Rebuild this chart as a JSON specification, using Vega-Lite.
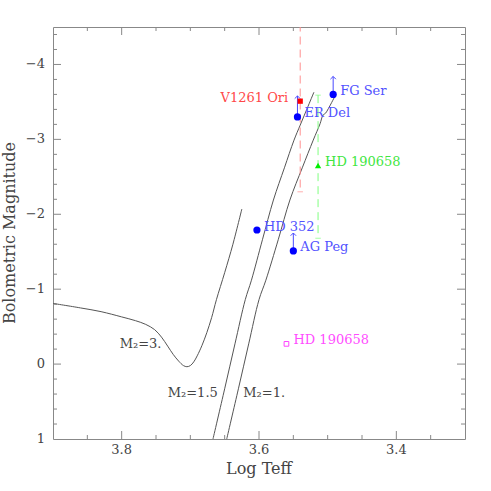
{
 "$schema": "https://vega.github.io/schema/vega-lite/v6.json",
 "width": 412, "height": 412,
 "autosize": {"type": "none"},
 "padding": {"left": 53, "top": 27, "right": 26, "bottom": 52},
 "config": {
  "view": {"stroke": "#888", "strokeWidth": 1}
 },
 "datasets": {
  "curves": [
   {"c":"3","o":1,"t":3.900,"m":-0.81},{"c":"3","o":2,"t":3.860,"m":-0.75},{"c":"3","o":3,"t":3.830,"m":-0.70},{"c":"3","o":4,"t":3.800,"m":-0.63},{"c":"3","o":5,"t":3.780,"m":-0.58},{"c":"3","o":6,"t":3.765,"m":-0.53},{"c":"3","o":7,"t":3.752,"m":-0.46},{"c":"3","o":8,"t":3.742,"m":-0.36},{"c":"3","o":9,"t":3.733,"m":-0.24},{"c":"3","o":10,"t":3.725,"m":-0.13},{"c":"3","o":11,"t":3.717,"m":-0.04},{"c":"3","o":12,"t":3.710,"m":0.02},{"c":"3","o":13,"t":3.705,"m":0.035},{"c":"3","o":14,"t":3.700,"m":0.02},{"c":"3","o":15,"t":3.695,"m":-0.03},{"c":"3","o":16,"t":3.690,"m":-0.11},{"c":"3","o":17,"t":3.683,"m":-0.25},{"c":"3","o":18,"t":3.676,"m":-0.42},{"c":"3","o":19,"t":3.669,"m":-0.62},{"c":"3","o":20,"t":3.662,"m":-0.86},{"c":"3","o":21,"t":3.650,"m":-1.22},{"c":"3","o":22,"t":3.638,"m":-1.60},{"c":"3","o":23,"t":3.625,"m":-2.07},
   {"c":"1.5","o":1,"t":3.667,"m":1.00},{"c":"1.5","o":2,"t":3.650,"m":0.33},{"c":"1.5","o":3,"t":3.635,"m":-0.27},{"c":"1.5","o":4,"t":3.620,"m":-0.86},{"c":"1.5","o":5,"t":3.611,"m":-1.12},{"c":"1.5","o":6,"t":3.595,"m":-1.66},{"c":"1.5","o":7,"t":3.579,"m":-2.19},{"c":"1.5","o":8,"t":3.563,"m":-2.62},{"c":"1.5","o":9,"t":3.549,"m":-2.99},{"c":"1.5","o":10,"t":3.540,"m":-3.19},{"c":"1.5","o":11,"t":3.530,"m":-3.41},{"c":"1.5","o":12,"t":3.520,"m":-3.63},
   {"c":"1","o":1,"t":3.647,"m":1.00},{"c":"1","o":2,"t":3.630,"m":0.33},{"c":"1","o":3,"t":3.615,"m":-0.27},{"c":"1","o":4,"t":3.600,"m":-0.86},{"c":"1","o":5,"t":3.590,"m":-1.12},{"c":"1","o":6,"t":3.572,"m":-1.66},{"c":"1","o":7,"t":3.555,"m":-2.19},{"c":"1","o":8,"t":3.537,"m":-2.62},{"c":"1","o":9,"t":3.521,"m":-2.99},{"c":"1","o":10,"t":3.511,"m":-3.21},{"c":"1","o":11,"t":3.507,"m":-3.32},{"c":"1","o":12,"t":3.503,"m":-3.35},{"c":"1","o":13,"t":3.499,"m":-3.41},{"c":"1","o":14,"t":3.488,"m":-3.60}
  ],
  "notes": [
   {"label":"M₂=3.","t":3.742,"m":-0.27},
   {"label":"M₂=1.5","t":3.660,"m":0.38},
   {"label":"M₂=1.","t":3.562,"m":0.38}
  ],
  "stars": [
   {"id":"v1261","name":"V1261 Ori","t":3.540,"m":-3.51,"g":"red","e1":-4.72,"e2":-2.30},
   {"id":"erdel","name":"ER Del","t":3.544,"m":-3.30,"g":"blue","up":-3.58},
   {"id":"fgser","name":"FG Ser","t":3.492,"m":-3.60,"g":"blue","up":-3.84},
   {"id":"hd352","name":"HD 352","t":3.603,"m":-1.79,"g":"blue"},
   {"id":"agpeg","name":"AG Peg","t":3.550,"m":-1.51,"g":"blue","up":-1.75},
   {"id":"hdg","name":"HD 190658","t":3.514,"m":-2.65,"g":"green","e1":-3.59,"e2":-1.68},
   {"id":"hdm","name":"HD 190658","t":3.560,"m":-0.27,"g":"magenta"}
  ],
  "xticks": [
   {"v":3.35,"k":"minor"},{"v":3.40,"k":"major"},{"v":3.45,"k":"minor"},{"v":3.50,"k":"minor"},{"v":3.55,"k":"minor"},{"v":3.60,"k":"major"},{"v":3.65,"k":"minor"},{"v":3.70,"k":"minor"},{"v":3.75,"k":"minor"},{"v":3.80,"k":"major"},{"v":3.85,"k":"minor"}
  ],
  "yticks": [
   {"v":-4.4,"k":"minor"},{"v":-4.2,"k":"minor"},{"v":-4.0,"k":"major"},{"v":-3.8,"k":"minor"},{"v":-3.6,"k":"minor"},{"v":-3.4,"k":"minor"},{"v":-3.2,"k":"minor"},{"v":-3.0,"k":"major"},{"v":-2.8,"k":"minor"},{"v":-2.6,"k":"minor"},{"v":-2.4,"k":"minor"},{"v":-2.2,"k":"minor"},{"v":-2.0,"k":"major"},{"v":-1.8,"k":"minor"},{"v":-1.6,"k":"minor"},{"v":-1.4,"k":"minor"},{"v":-1.2,"k":"minor"},{"v":-1.0,"k":"major"},{"v":-0.8,"k":"minor"},{"v":-0.6,"k":"minor"},{"v":-0.4,"k":"minor"},{"v":-0.2,"k":"minor"},{"v":0.0,"k":"major"},{"v":0.2,"k":"minor"},{"v":0.4,"k":"minor"},{"v":0.6,"k":"minor"},{"v":0.8,"k":"minor"}
  ],
  "xlabels": [{"v":3.4},{"v":3.6},{"v":3.8}],
  "ylabels": [{"v":-4},{"v":-3},{"v":-2},{"v":-1},{"v":0},{"v":1}]
 },
 "resolve": {"scale": {"color": "independent"}},
 "layer": [
  {
   "data": {"name": "stars"},
   "mark": {"type": "point", "opacity": 0},
   "encoding": {
    "x": {"field": "t", "type": "quantitative", "axis": null,
          "scale": {"domain": [3.3, 3.9], "reverse": true, "nice": false, "zero": false}},
    "y": {"field": "m", "type": "quantitative", "axis": null,
          "scale": {"domain": [-4.5, 1], "reverse": true, "nice": false, "zero": false}}
   }
  },
  {
   "data": {"name": "xticks"},
   "mark": {"type": "point", "shape": "M0,0L0,-1", "filled": false, "strokeWidth": 1, "color": "#888", "opacity": 1},
   "encoding": {
    "x": {"field": "v", "type": "quantitative", "axis": null},
    "y": {"datum": 1, "type": "quantitative", "axis": null},
    "size": {"field": "k", "type": "nominal", "scale": {"domain": ["major", "minor"], "range": [256, 64]}, "legend": null}
   }
  },
  {
   "data": {"name": "xticks"},
   "mark": {"type": "point", "shape": "M0,0L0,1", "filled": false, "strokeWidth": 1, "color": "#888", "opacity": 1},
   "encoding": {
    "x": {"field": "v", "type": "quantitative", "axis": null},
    "y": {"datum": -4.5, "type": "quantitative", "axis": null},
    "size": {"field": "k", "type": "nominal", "scale": {"domain": ["major", "minor"], "range": [256, 64]}, "legend": null}
   }
  },
  {
   "data": {"name": "yticks"},
   "mark": {"type": "point", "shape": "M0,0L1,0", "filled": false, "strokeWidth": 1, "color": "#888", "opacity": 1},
   "encoding": {
    "x": {"datum": 3.9, "type": "quantitative", "axis": null},
    "y": {"field": "v", "type": "quantitative", "axis": null},
    "size": {"field": "k", "type": "nominal", "scale": {"domain": ["major", "minor"], "range": [256, 64]}, "legend": null}
   }
  },
  {
   "data": {"name": "yticks"},
   "mark": {"type": "point", "shape": "M0,0L-1,0", "filled": false, "strokeWidth": 1, "color": "#888", "opacity": 1},
   "encoding": {
    "x": {"datum": 3.3, "type": "quantitative", "axis": null},
    "y": {"field": "v", "type": "quantitative", "axis": null},
    "size": {"field": "k", "type": "nominal", "scale": {"domain": ["major", "minor"], "range": [256, 64]}, "legend": null}
   }
  },
  {
   "data": {"name": "xlabels"},
   "mark": {"type": "text", "font": "DejaVu Serif", "fontSize": 13, "color": "#444", "align": "center", "baseline": "middle", "dy": 11},
   "encoding": {
    "x": {"field": "v", "type": "quantitative", "axis": null},
    "y": {"datum": 1, "type": "quantitative", "axis": null},
    "text": {"field": "v", "type": "quantitative", "format": ".1f"}
   }
  },
  {
   "data": {"name": "ylabels"},
   "mark": {"type": "text", "font": "DejaVu Serif", "fontSize": 13, "color": "#444", "align": "right", "baseline": "middle", "dx": -8},
   "encoding": {
    "x": {"datum": 3.9, "type": "quantitative", "axis": null},
    "y": {"field": "v", "type": "quantitative", "axis": null},
    "text": {"field": "v", "type": "quantitative", "format": "d"}
   }
  },
  {
   "data": {"values": [{"s": "Log Teff"}]},
   "mark": {"type": "text", "font": "DejaVu Serif", "fontSize": 16, "color": "#444", "align": "center", "baseline": "middle", "dy": 30},
   "encoding": {
    "x": {"datum": 3.6, "type": "quantitative", "axis": null},
    "y": {"datum": 1, "type": "quantitative", "axis": null},
    "text": {"field": "s"}
   }
  },
  {
   "data": {"values": [{"s": "Bolometric Magnitude"}]},
   "mark": {"type": "text", "font": "DejaVu Serif", "fontSize": 16, "color": "#444", "align": "center", "baseline": "middle", "angle": 270, "dy": -43},
   "encoding": {
    "x": {"datum": 3.9, "type": "quantitative", "axis": null},
    "y": {"datum": -1.75, "type": "quantitative", "axis": null},
    "text": {"field": "s"}
   }
  },
  {
   "data": {"name": "curves"},
   "mark": {"type": "line", "color": "#555", "strokeWidth": 1, "clip": true, "interpolate": "catmull-rom"},
   "encoding": {
    "x": {"field": "t", "type": "quantitative", "axis": null},
    "y": {"field": "m", "type": "quantitative", "axis": null},
    "detail": {"field": "c"},
    "order": {"field": "o", "type": "quantitative"}
   }
  },
  {
   "data": {"name": "notes"},
   "mark": {"type": "text", "font": "DejaVu Serif", "fontSize": 13, "color": "#444", "align": "right", "baseline": "middle"},
   "encoding": {
    "x": {"field": "t", "type": "quantitative", "axis": null},
    "y": {"field": "m", "type": "quantitative", "axis": null},
    "text": {"field": "label"}
   }
  },
  {
   "data": {"name": "stars"},
   "transform": [{"filter": "isValid(datum.e1)"}],
   "mark": {"type": "rule", "strokeWidth": 1, "strokeDash": [8, 5], "clip": true},
   "encoding": {
    "x": {"field": "t", "type": "quantitative", "axis": null},
    "y": {"field": "e1", "type": "quantitative", "axis": null},
    "y2": {"field": "e2"},
    "color": {"field": "g", "type": "nominal", "scale": {"domain": ["red", "green"], "range": ["#ff8f8f", "#80ff80"]}, "legend": null}
   }
  },
  {
   "data": {"name": "stars"},
   "transform": [{"filter": "isValid(datum.e1)"}, {"fold": ["e1", "e2"], "as": ["ek", "ev"]}],
   "mark": {"type": "point", "shape": "stroke", "size": 30, "strokeWidth": 1, "clip": true},
   "encoding": {
    "x": {"field": "t", "type": "quantitative", "axis": null},
    "y": {"field": "ev", "type": "quantitative", "axis": null},
    "color": {"field": "g", "type": "nominal", "scale": {"domain": ["red", "green"], "range": ["#ff8f8f", "#80ff80"]}, "legend": null}
   }
  },
  {
   "data": {"name": "stars"},
   "transform": [{"filter": "isValid(datum.up)"}],
   "mark": {"type": "rule", "strokeWidth": 1, "color": "#4a4aff"},
   "encoding": {
    "x": {"field": "t", "type": "quantitative", "axis": null},
    "y": {"field": "m", "type": "quantitative", "axis": null},
    "y2": {"field": "up"}
   }
  },
  {
   "data": {"name": "stars"},
   "transform": [{"filter": "isValid(datum.up)"}],
   "mark": {"type": "point", "shape": "M-1,1L0,0L1,1", "filled": false, "size": 30, "strokeWidth": 1, "color": "#4a4aff", "opacity": 1},
   "encoding": {
    "x": {"field": "t", "type": "quantitative", "axis": null},
    "y": {"field": "up", "type": "quantitative", "axis": null}
   }
  },
  {
   "data": {"name": "stars"},
   "transform": [{"filter": "datum.g == 'blue'"}],
   "mark": {"type": "point", "shape": "circle", "filled": true, "size": 52, "color": "#0000ff", "opacity": 1},
   "encoding": {
    "x": {"field": "t", "type": "quantitative", "axis": null},
    "y": {"field": "m", "type": "quantitative", "axis": null}
   }
  },
  {
   "data": {"name": "stars"},
   "transform": [{"filter": "datum.g == 'red'"}],
   "mark": {"type": "point", "shape": "square", "filled": true, "size": 28, "color": "#ff0000", "opacity": 1},
   "encoding": {
    "x": {"field": "t", "type": "quantitative", "axis": null},
    "y": {"field": "m", "type": "quantitative", "axis": null}
   }
  },
  {
   "data": {"name": "stars"},
   "transform": [{"filter": "datum.g == 'green'"}],
   "mark": {"type": "point", "shape": "triangle-up", "filled": true, "size": 40, "color": "#00ee00", "opacity": 1},
   "encoding": {
    "x": {"field": "t", "type": "quantitative", "axis": null},
    "y": {"field": "m", "type": "quantitative", "axis": null}
   }
  },
  {
   "data": {"name": "stars"},
   "transform": [{"filter": "datum.g == 'magenta'"}],
   "mark": {"type": "point", "shape": "square", "filled": false, "size": 22, "strokeWidth": 1, "color": "#ff44ff", "opacity": 1},
   "encoding": {
    "x": {"field": "t", "type": "quantitative", "axis": null},
    "y": {"field": "m", "type": "quantitative", "axis": null}
   }
  },
  {
   "data": {"name": "stars"},
   "transform": [{"filter": "datum.id != 'v1261'"}],
   "mark": {"type": "text", "font": "DejaVu Serif", "fontSize": 13, "align": "left", "baseline": "middle", "dx": 7, "dy": -3.5},
   "encoding": {
    "x": {"field": "t", "type": "quantitative", "axis": null},
    "y": {"field": "m", "type": "quantitative", "axis": null},
    "text": {"field": "name"},
    "color": {"field": "g", "type": "nominal", "scale": {"domain": ["blue", "green", "magenta"], "range": ["#5252ff", "#3fe63f", "#ff4dff"]}, "legend": null}
   }
  },
  {
   "data": {"name": "stars"},
   "transform": [{"filter": "datum.id == 'v1261'"}],
   "mark": {"type": "text", "font": "DejaVu Serif", "fontSize": 13, "align": "right", "baseline": "middle", "dx": -12, "dy": -3.5, "color": "#ff4848"},
   "encoding": {
    "x": {"field": "t", "type": "quantitative", "axis": null},
    "y": {"field": "m", "type": "quantitative", "axis": null},
    "text": {"field": "name"}
   }
  }
 ]
}
